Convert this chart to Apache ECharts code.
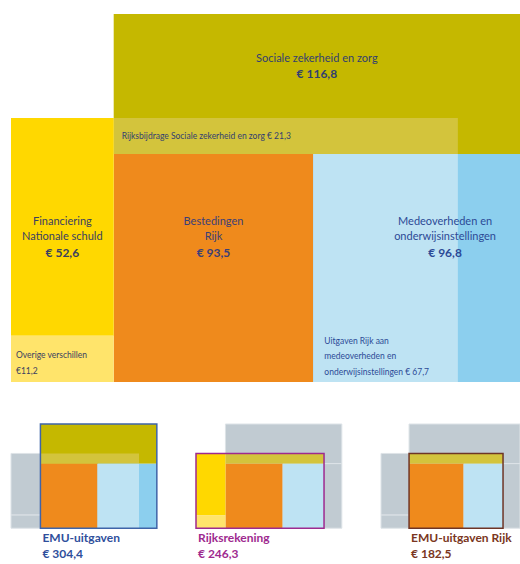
<!DOCTYPE html>
<html>
<head>
<meta charset="utf-8">
<script src="https://cdn.jsdelivr.net/npm/echarts@6/dist/echarts.min.js"></script>
<style>
html,body{margin:0;padding:0;background:#ffffff;}
#chart{width:520px;height:564px;}
</style>
</head>
<body>
<div id="chart"></div>
<script>
// ---------------- DATA ----------------
const blockKeys   = ['sz', 'rb', 'best', 'medeo', 'uitg', 'fin', 'ov'];
const blockNames  = [
  'Sociale zekerheid en zorg',
  'Rijksbijdrage Sociale zekerheid en zorg',
  'Bestedingen\nRijk',
  'Medeoverheden en\nonderwijsinstellingen',
  'Uitgaven Rijk aan\nmedeoverheden en\nonderwijsinstellingen',
  'Financiering\nNationale schuld',
  'Overige verschillen'
];
const blockValues = [116.8, 21.3, 93.5, 96.8, 67.7, 52.6, 11.2];

const totalNames  = ['EMU-uitgaven', 'Rijksrekening', 'EMU-uitgaven Rijk'];
const totalValues = [304.4, 246.3, 182.5];
const totalMembers = [
  ['sz', 'rb', 'best', 'medeo', 'uitg'],
  ['rb', 'fin', 'ov', 'best', 'uitg'],
  ['rb', 'best', 'uitg']
];

// ---------------- LAYOUT / STYLE ----------------
const STRIP_H = 36 / 228;      // height of the Rijksbijdrage strip relative to bottom band
const FIN_W = 48.1;            // width of the financing column (axis units)
const LABEL_Y = 0.64;          // vertical anchor of the column labels
const MEDEO_LABEL_X = 155.2;   // horizontal anchor of the Medeoverheden label
const FONT = 'Lato, "Open Sans", sans-serif';
const NAVY = '#323f70';
const BLUE_TXT = '#2c4a96';
const GREY = '#c1cbd2';
const GREY_LINE = '#dde3e7';
const colors = {
  sz: '#c5b800', rb: '#d3c43c', best: '#ef8a1c', medeo: '#8ccfee',
  uitg: '#bee3f3', fin: '#ffd800', ov: '#ffe46b'
};
const labelColors = {sz: NAVY, rb: NAVY, best: '#3b3f78', medeo: BLUE_TXT, uitg: BLUE_TXT, fin: '#3a4060', ov: '#3a4060'};
const totalColors = ['#2f4f9c', '#9e2a8f', '#7a3621'];
const outlineColors = ['#3f64a8', '#9e2a8f', '#6e3526'];

// ---------------- GEOMETRY FROM VALUES ----------------
const val = {};
blockKeys.forEach((k, i) => val[k] = blockValues[i]);
const W = val.best + val.medeo;
const topH = val.sz / W;
const yellowH = 1 + STRIP_H;
const ovH = yellowH * val.ov / (val.fin + val.ov);
const geom = {
  sz:    [0, W, 1, 1 + topH],
  rb:    [0, val.best + val.uitg, 1, 1 + STRIP_H],
  best:  [0, val.best, 0, 1],
  medeo: [val.best, W, 0, 1],
  uitg:  [val.best, val.best + val.uitg, 0, 1],
  fin:   [-FIN_W, 0, ovH, yellowH],
  ov:    [-FIN_W, 0, 0, ovH]
};

function euro(v, space) {
  return '\u20AC' + (space ? ' ' : '') + v.toFixed(1).replace('.', ',');
}

// label definitions for main diagram: anchor (axis units) + pixel offsets for lines
function labelLines(k) {
  const i = blockKeys.indexOf(k);
  const name = blockNames[i].split('\n');
  const v = blockValues[i];
  switch (k) {
    case 'sz':   return {ax: W / 2, ay: 1 + STRIP_H + (topH - STRIP_H) / 2, align: 'center',
                   lines: [[name[0], 11, 'normal', -8], [euro(v, true), 12, 'bold', 8]]};
    case 'rb':   return {ax: 0, ay: 1 + STRIP_H / 2, dx: 8, align: 'left',
                   lines: [[name[0] + ' ' + euro(v, true), 8.5, 'normal', 0]]};
    case 'fin':
    case 'best': return {ax: (geom[k][0] + geom[k][1]) / 2, ay: LABEL_Y, align: 'center',
                   lines: [[name[0], 11, 'normal', -16], [name[1], 11, 'normal', -1], [euro(v, true), 12, 'bold', 16]]};
    case 'medeo': return {ax: MEDEO_LABEL_X, ay: LABEL_Y, align: 'center',
                   lines: [[name[0], 11, 'normal', -16], [name[1], 11, 'normal', -1], [euro(v, true), 12, 'bold', 16]]};
    case 'ov':   return {ax: geom.ov[0], ay: 0, dx: 5, align: 'left',
                   lines: [[name[0], 8.5, 'normal', -27], [euro(v, false), 8.5, 'normal', -11]]};
    case 'uitg': return {ax: geom.uitg[0], ay: 0, dx: 11, align: 'left',
                   lines: [[name[0], 8.5, 'normal', -41], [name[1], 8.5, 'normal', -26], [name[2] + ' ' + euro(v, true), 8.5, 'normal', -10]]};
  }
}

function rectFromApi(api) {
  const p0 = api.coord([api.value(0), api.value(3)]);
  const p1 = api.coord([api.value(1), api.value(2)]);
  return {x: p0[0], y: p0[1], width: p1[0] - p0[0], height: p1[1] - p0[1]};
}

// ---------------- GRIDS ----------------
const miniScale = 0.2832;
const mainPxX = 2.16;
const mainW = (W + FIN_W) * mainPxX;
const mainH = 368;
const grids = [
  {left: 11, top: 14, width: mainW, height: mainH},
  {left: 11, top: 424, width: mainW * miniScale, height: mainH * miniScale},
  {left: 196, top: 424, width: mainW * miniScale, height: mainH * miniScale},
  {left: 381, top: 424, width: mainW * miniScale, height: mainH * miniScale}
];
const xAxes = grids.map((g, i) => ({type: 'value', gridIndex: i, min: -FIN_W, max: W, show: false}));
const yAxes = grids.map((g, i) => ({type: 'value', gridIndex: i, min: 0, max: 1 + topH, show: false}));

const series = [];

// main blocks
series.push({
  type: 'custom', name: 'main', xAxisIndex: 0, yAxisIndex: 0, silent: true,
  encode: {x: [0, 1], y: [2, 3]},
  data: blockKeys.map((k, i) => ({name: blockNames[i], value: [...geom[k], i]})),
  renderItem: function (params, api) {
    const k = blockKeys[api.value(4)];
    return {type: 'rect', shape: rectFromApi(api), style: {fill: colors[k]}};
  }
});

// main labels
series.push({
  type: 'custom', name: 'labels', xAxisIndex: 0, yAxisIndex: 0, silent: true, z: 5,
  data: blockKeys.map((k, i) => { const L = labelLines(k); return {value: [L.ax, L.ay, i]}; }),
  renderItem: function (params, api) {
    const k = blockKeys[api.value(2)];
    const L = labelLines(k);
    const p = api.coord([api.value(0), api.value(1)]);
    return {
      type: 'group',
      children: L.lines.map(l => ({
        type: 'text',
        x: p[0] + (L.dx || 0), y: p[1] + l[3],
        style: {text: l[0], fill: labelColors[k], align: L.align, verticalAlign: 'middle',
                font: l[2] + ' ' + l[1] + 'px ' + FONT}
      }))
    };
  }
});

// mini diagrams
totalNames.forEach((tn, m) => {
  const members = totalMembers[m];
  // grey blocks first, coloured on top
  const order = blockKeys.filter(k => members.indexOf(k) < 0).concat(blockKeys.filter(k => members.indexOf(k) >= 0));
  series.push({
    type: 'custom', name: tn + ' blocks', xAxisIndex: m + 1, yAxisIndex: m + 1, silent: true,
    data: order.map(k => ({value: [...geom[k], blockKeys.indexOf(k)]})),
    renderItem: function (params, api) {
      const k = blockKeys[api.value(4)];
      const inc = members.indexOf(k) >= 0;
      return {type: 'rect', shape: rectFromApi(api),
              style: inc ? {fill: colors[k]} : {fill: GREY, stroke: GREY_LINE, lineWidth: 1}};
    }
  });
  const bx0 = Math.min(...members.map(k => geom[k][0]));
  const bx1 = Math.max(...members.map(k => geom[k][1]));
  const by0 = Math.min(...members.map(k => geom[k][2]));
  const by1 = Math.max(...members.map(k => geom[k][3]));
  series.push({
    type: 'custom', name: tn, xAxisIndex: m + 1, yAxisIndex: m + 1, silent: true, z: 6,
    data: [{name: tn, value: [bx0, bx1, by0, by1, totalValues[m]]}],
    renderItem: function (params, api) {
      const r = rectFromApi(api);
      const font = 'bold 12px ' + FONT;
      return {
        type: 'group',
        children: [
          {type: 'rect', shape: r, style: {fill: 'none', stroke: outlineColors[m], lineWidth: 1.5}},
          {type: 'text', x: r.x + 2, y: r.y + r.height + 9,
           style: {text: tn, fill: totalColors[m], font: font, align: 'left', verticalAlign: 'middle'}},
          {type: 'text', x: r.x + 2, y: r.y + r.height + 25,
           style: {text: euro(api.value(4), true), fill: totalColors[m], font: font, align: 'left', verticalAlign: 'middle'}}
        ]
      };
    }
  });
});

const chart = echarts.init(document.getElementById('chart'), null, {renderer: 'svg'});
chart.setOption({
  animation: false,
  backgroundColor: '#ffffff',
  grid: grids,
  xAxis: xAxes,
  yAxis: yAxes,
  series: series
});
</script>
</body>
</html>
